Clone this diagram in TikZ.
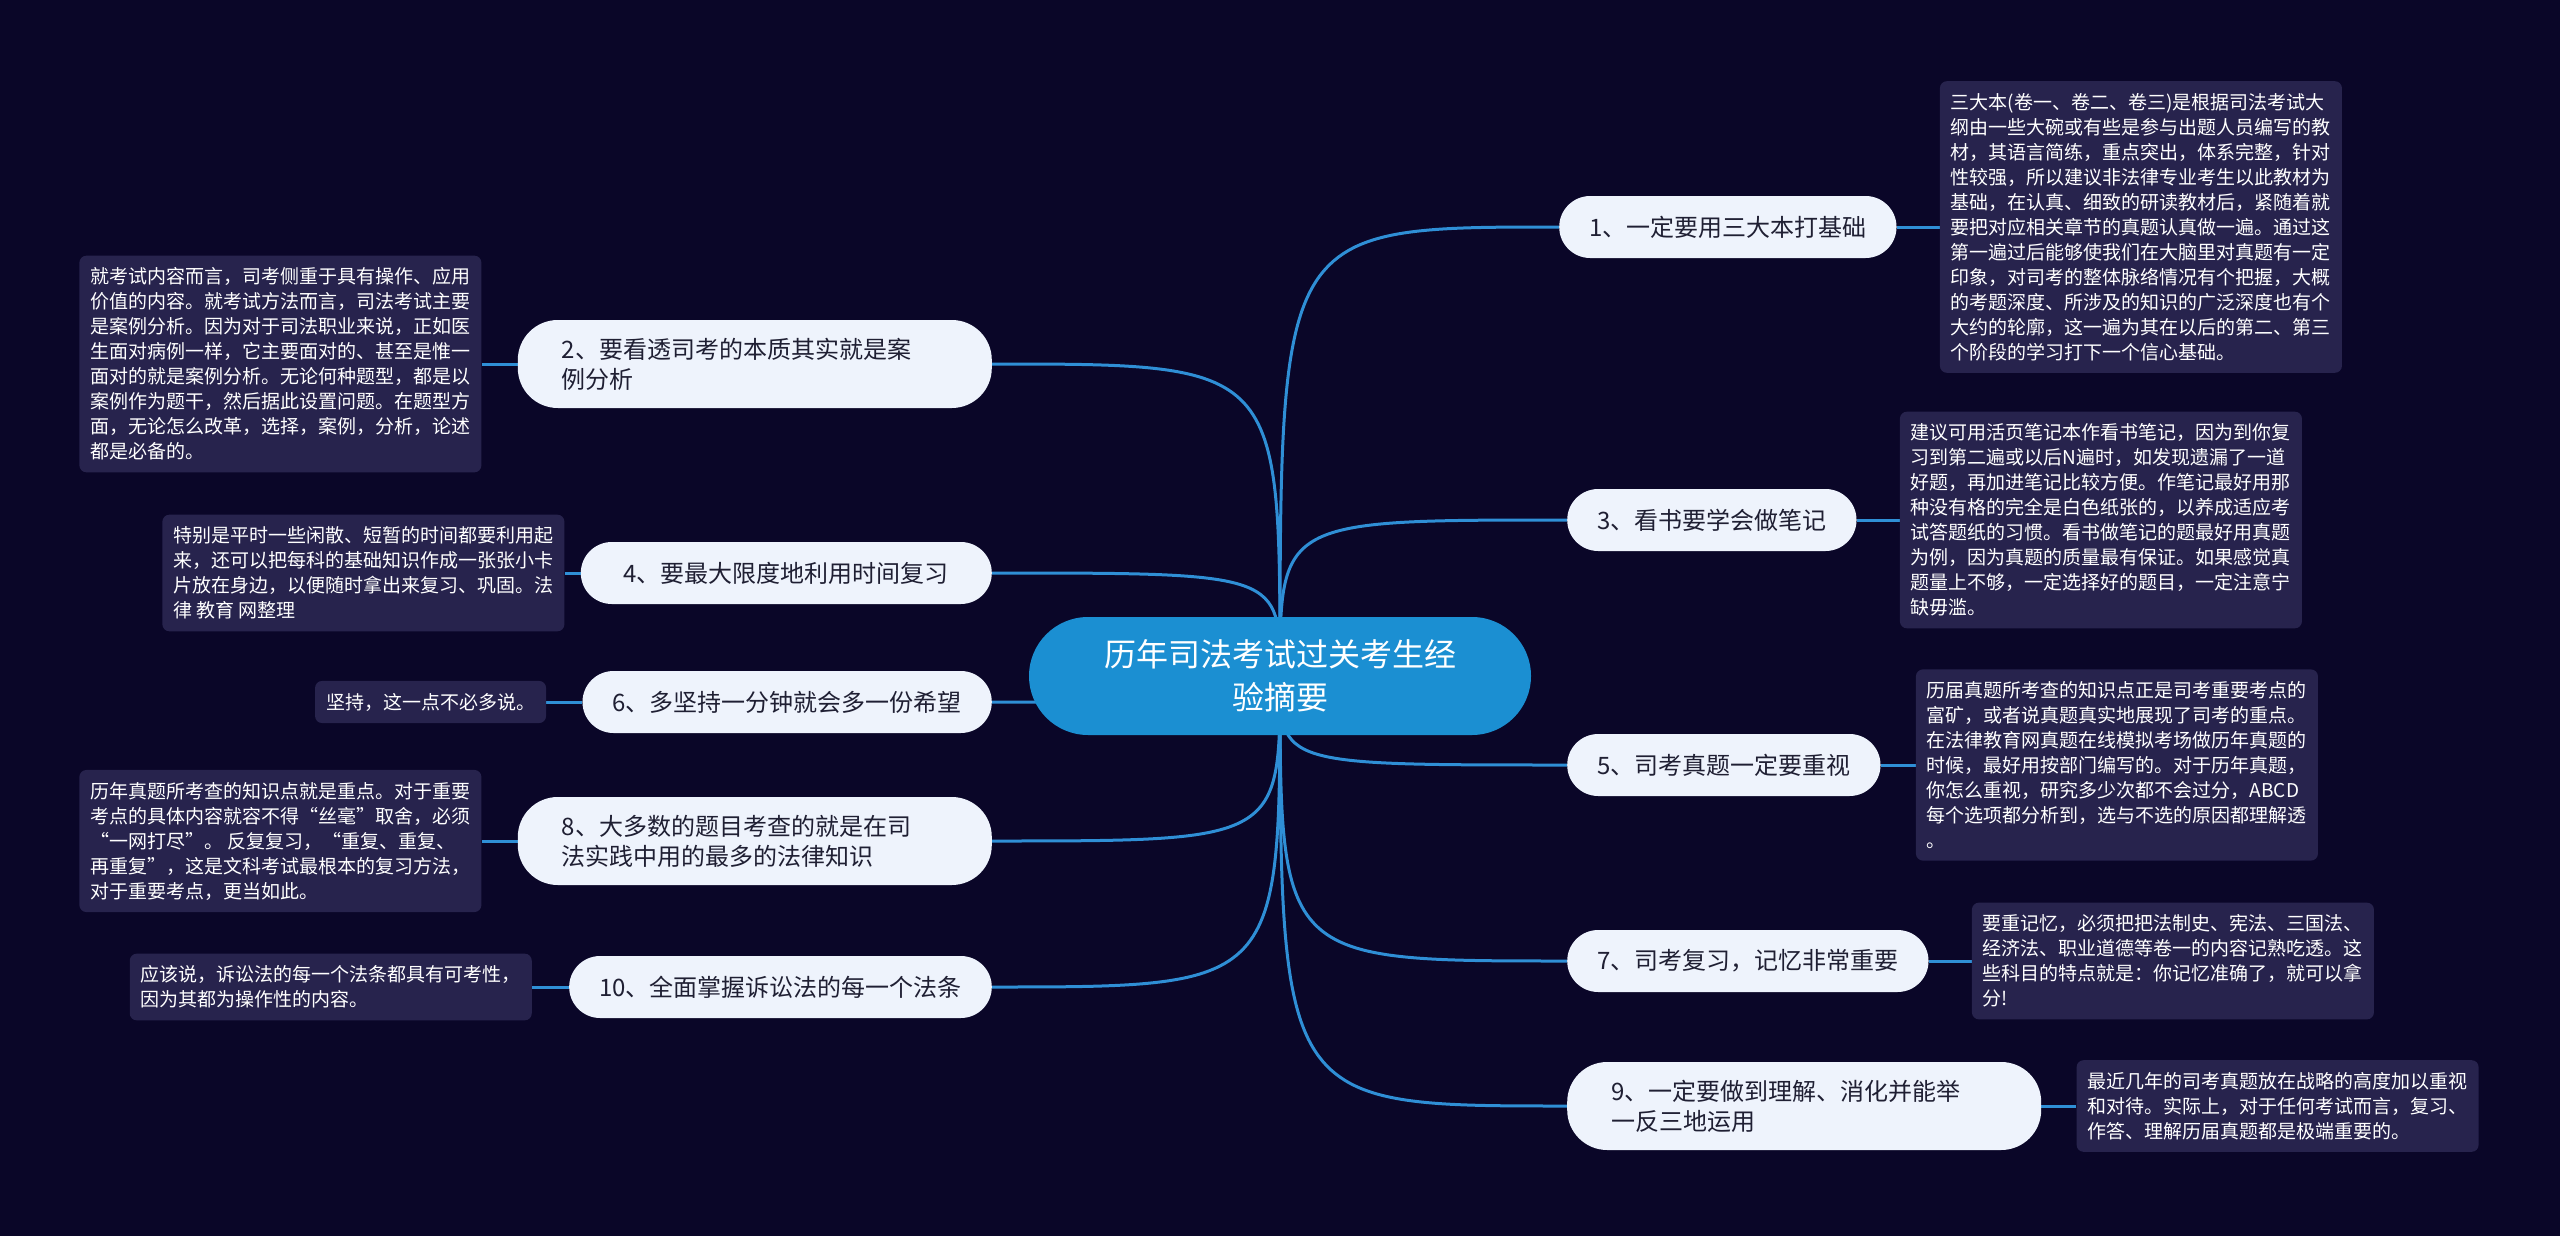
\documentclass[tikz,border=0pt]{standalone}
\usepackage{fontspec}
\setmainfont{Noto Sans CJK SC}
\usetikzlibrary{positioning, backgrounds}
\definecolor{bgnavy}{HTML}{0A0628}
\definecolor{rootblue}{HTML}{1B8FD2}
\definecolor{linkblue}{HTML}{2F8FD6}
\definecolor{pillfill}{HTML}{EEF3FC}
\definecolor{pilltext}{HTML}{1F1F33}
\definecolor{notefill}{HTML}{27234D}

\begin{document}
\begin{tikzpicture}[x=1pt, y=-1pt,
  root/.style={fill=rootblue, text=white, font=\fontsize{32}{43}\selectfont, align=center,
    minimum width=502pt, minimum height=118pt, rounded corners=59pt},
  pill/.style={fill=pillfill, text=pilltext, font=\fontsize{24}{30}\selectfont, align=left,
    inner xsep=30pt, minimum height=62pt, rounded corners=31pt},
  pilltwo/.style={pill, text width=386pt, inner xsep=44pt, minimum height=88pt, rounded corners=40pt},
  note/.style={fill=notefill, text=white, font=\fontsize{19}{25}\selectfont, align=left,
    inner xsep=11pt, inner ysep=12pt, rounded corners=7pt},
  link/.style={draw=linkblue, line width=3pt}]
  \useasboundingbox (0,0) rectangle (2560,1236);

  \node[root] (root) at (1280,676) {历年司法考试过关考生经\\验摘要};

  % --- right side ---
  \node[pill, anchor=west] (b1) at (1559,227) {1、一定要用三大本打基础};
  \node[pill, anchor=west] (b3) at (1567,520) {3、看书要学会做笔记};
  \node[pill, anchor=west] (b5) at (1567,765) {5、司考真题一定要重视};
  \node[pill, anchor=west] (b7) at (1567,961) {7、司考复习，记忆非常重要};
  \node[pilltwo, anchor=west] (b9) at (1567,1106) {9、一定要做到理解、消化并能举\\一反三地运用};

  \node[note, right=43pt of b1] (l1) {三大本(卷一、卷二、卷三)是根据司法考试大\\纲由一些大碗或有些是参与出题人员编写的教\\材，其语言简练，重点突出，体系完整，针对\\性较强，所以建议非法律专业考生以此教材为\\基础，在认真、细致的研读教材后，紧随着就\\要把对应相关章节的真题认真做一遍。通过这\\第一遍过后能够使我们在大脑里对真题有一定\\印象，对司考的整体脉络情况有个把握，大概\\的考题深度、所涉及的知识的广泛深度也有个\\大约的轮廓，这一遍为其在以后的第二、第三\\个阶段的学习打下一个信心基础。};
  \node[note, right=43pt of b3] (l3) {建议可用活页笔记本作看书笔记，因为到你复\\习到第二遍或以后N遍时，如发现遗漏了一道\\好题，再加进笔记比较方便。作笔记最好用那\\种没有格的完全是白色纸张的，以养成适应考\\试答题纸的习惯。看书做笔记的题最好用真题\\为例，因为真题的质量最有保证。如果感觉真\\题量上不够，一定选择好的题目，一定注意宁\\缺毋滥。};
  \node[note, right=35pt of b5] (l5) {历届真题所考查的知识点正是司考重要考点的\\富矿，或者说真题真实地展现了司考的重点。\\在法律教育网真题在线模拟考场做历年真题的\\时候，最好用按部门编写的。对于历年真题，\\你怎么重视，研究多少次都不会过分，ABCD\\每个选项都分析到，选与不选的原因都理解透\\。};
  \node[note, right=43pt of b7] (l7) {要重记忆，必须把把法制史、宪法、三国法、\\经济法、职业道德等卷一的内容记熟吃透。这\\些科目的特点就是：你记忆准确了，就可以拿\\分!};
  \node[note, right=35pt of b9] (l9) {最近几年的司考真题放在战略的高度加以重视\\和对待。实际上，对于任何考试而言，复习、\\作答、理解历届真题都是极端重要的。};

  % --- left side ---
  \node[pilltwo, anchor=east] (b2) at (992,364) {2、要看透司考的本质其实就是案\\例分析};
  \node[pill, anchor=east, minimum width=411pt] (b4) at (992,573) {4、要最大限度地利用时间复习};
  \node[pill, anchor=east] (b6) at (992,702) {6、多坚持一分钟就会多一份希望};
  \node[pilltwo, anchor=east] (b8) at (992,841) {8、大多数的题目考查的就是在司\\法实践中用的最多的法律知识};
  \node[pill, anchor=east] (b10) at (992,987) {10、全面掌握诉讼法的每一个法条};

  \node[note, left=36pt of b2] (l2) {就考试内容而言，司考侧重于具有操作、应用\\价值的内容。就考试方法而言，司法考试主要\\是案例分析。因为对于司法职业来说，正如医\\生面对病例一样，它主要面对的、甚至是惟一\\面对的就是案例分析。无论何种题型，都是以\\案例作为题干，然后据此设置问题。在题型方\\面，无论怎么改革，选择，案例，分析，论述\\都是必备的。};
  \node[note, left=16pt of b4] (l4) {特别是平时一些闲散、短暂的时间都要利用起\\来，还可以把每科的基础知识作成一张张小卡\\片放在身边，以便随时拿出来复习、巩固。法\\律 教育 网整理};
  \node[note, left=36pt of b6] (l6) {坚持，这一点不必多说。};
  \node[note, left=36pt of b8] (l8) {历年真题所考查的知识点就是重点。对于重要\\考点的具体内容就容不得“丝毫”取舍，必须\\“一网打尽”。 反复复习，“重复、重复、\\再重复”，这是文科考试最根本的复习方法，\\对于重要考点，更当如此。};
  \node[note, left=37pt of b10] (l10) {应该说，诉讼法的每一个法条都具有可考性，\\因为其都为操作性的内容。};

  \begin{scope}[on background layer]
    \fill[bgnavy] (0,0) rectangle (2560,1236);
    \foreach \n in {1,3,5,7,9} {
      \draw[link] (root.center) .. controls (root.center |- b\n.west) .. (b\n.west);
      \draw[link] (b\n.east) -- (l\n.west);
    }
    \foreach \n in {2,4,6,8,10} {
      \draw[link] (root.center) .. controls (root.center |- b\n.east) .. (b\n.east);
      \draw[link] (b\n.west) -- (l\n.east);
    }
  \end{scope}
\end{tikzpicture}
\end{document}
